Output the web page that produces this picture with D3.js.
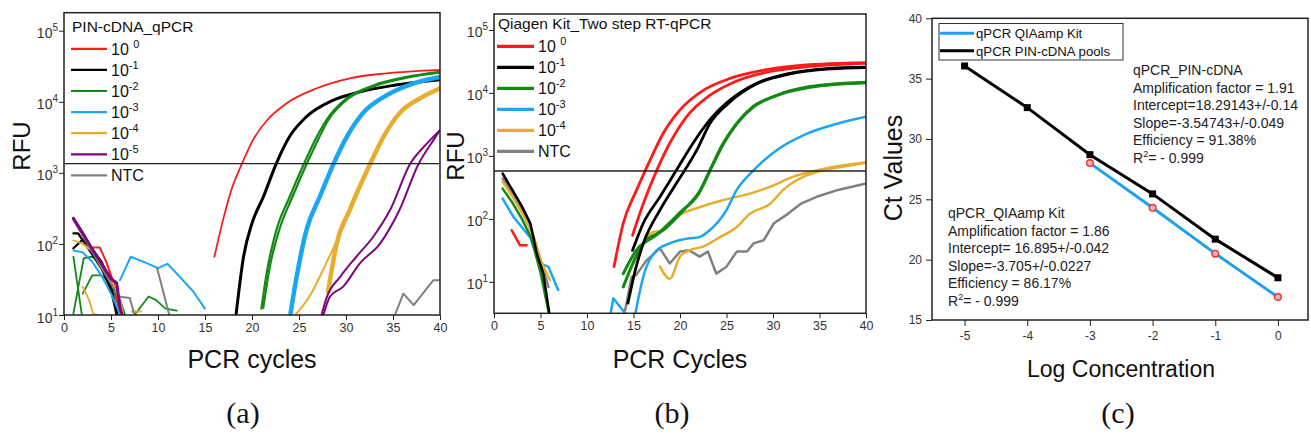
<!DOCTYPE html>
<html><head><meta charset="utf-8">
<script src="https://cdn.jsdelivr.net/npm/d3@7"></script>
<style>
body{margin:0;background:#fff;}
svg text{font-family:Arial,"Liberation Sans",Helvetica,sans-serif;}
</style>
</head><body>
<svg id="chart" width="1311" height="437"></svg>
<script>
// ---------------- DATA ----------------
const cycleTicks = [0,5,10,15,20,25,30,35,40];
const rfuTicks = [10,100,1000,10000,100000];
const legendA = ["10 |0","10|-1","10|-2","10|-3","10|-4","10|-5","NTC"];
const legendB = ["10 |0","10|-1","10|-2","10|-3","10|-4","NTC"];
const aThreshold = 1350;
const bThreshold = 575;

// Panel (a): PIN-cDNA_qPCR  [cycle, RFU]
const aRed1 = [[16.0,66],[17.0,240],[17.8,575],[18.9,1318],[20.1,2884],[21.6,5495],[23.7,9550],[26.9,15490],[30.4,21380],[34.3,25120],[40,28180]];
const aRedN = [[3.0,89],[3.8,89],[4.5,56],[5.3,28],[6.0,10]];
const aBlack1 = [[18.3,10],[19.1,66],[20.0,195],[21.2,457],[22.55,1318],[24.0,3236],[25.8,6166],[28.6,10470],[31.5,13800],[35.0,16980],[40,20420]];
const aBlackN1 = [[1,141],[1.5,141],[2,112],[3,71],[4,45],[5,22.4],[5.6,10]];
const aBlackN2 = [[1,87],[2,115],[3,85],[4,56],[5,25],[5.7,10]];
const aGreen1 = [[21.0,12.3],[21.56,38.9],[22.6,158],[24.0,457],[25.5,1318],[26.7,2884],[27.9,5495],[30.1,11220],[32.9,16980],[36.5,22390],[40,26300]];
const aGreen2 = [[21.2,12.6],[21.9,47.9],[22.9,158],[24.3,457],[25.8,1318],[27.0,2884],[28.1,5495],[30.3,11220],[33.0,16600],[36.5,21880],[40,25700]];
const aGreenN1 = [[1,66],[1.9,10]];
const aGreenN2 = [[1,10.5],[2.1,63],[3,66],[4,56],[5,32],[6,15.8],[6.5,10]];
const aGreenN3 = [[2.0,20],[3.0,36],[4.0,36],[5.0,28],[5.5,18],[6,10]];
const aGreenN4 = [[7.5,10],[9.0,18.2],[9.8,16.2],[10.8,12.3],[12.0,11.5]];
const aBlue1 = [[24.1,10.5],[24.75,34.7],[25.8,158],[27.2,457],[28.65,1318],[30.1,3236],[31.8,6918],[34.3,12300],[37.2,18200],[40,22390]];
const aBlueN1 = [[1,81],[2,76],[3,56],[4,35.5],[5,20],[6,10]];
const aBlueN2 = [[5.96,30.9],[7.1,66],[8.8,53.7],[10.0,45.7],[11.0,52.5],[12.3,34.7],[13.75,21.4],[15.0,12.3]];
const aYellow1 = [[24.6,10],[26.2,19],[27.9,53.7],[29.7,174],[31.1,457],[32.55,1318]];
const aYellow2 = [[28.1,21.4],[29.0,100],[30.4,302],[32.55,1318],[34.0,3236],[35.7,6918],[37.9,11220],[40,15490]];
const aYellowN1 = [[1,112],[2,100],[3,79.4],[4,52.5],[5,31.6],[6,15.8],[6.3,10]];
const aYellowN2 = [[2.0,25.1],[2.7,15.8],[3.1,10.5],[3.6,10]];
const aYellowN3 = [[7.2,11.2],[8.2,11.2]];
const aPurple1 = [[27.4,10],[27.9,17],[29.4,34.7],[31.1,66],[32.9,126],[34.7,302],[36.8,1318],[38.6,2570],[40,3981]];
const aPurple2 = [[27.6,10],[28.3,18.2],[29.7,25.1],[31.5,53.7],[33.6,100],[35.7,302],[37.7,1318],[39.3,2884],[40,3981]];
const aPurpleN = [[1,229],[2,141],[3,85],[4,52.5],[5,32.4],[5.6,28.2],[6.0,12],[6.2,10]];
const aGrayN1 = [[1,219],[2,129],[3,77.6],[4,45.7],[5,27.5],[5.8,18.2],[7.0,17.4],[7.5,10]];
const aGrayN2 = [[9.9,45.7],[11.2,10]];
const aGrayN3 = [[35.2,10],[36.1,20],[37.2,13.8],[39.3,30.9],[40,30.9]];

// Panel (b): Qiagen Kit_Two step RT-qPCR  [cycle, RFU]
const bRed1 = [[12.9,17.4],[13.9,85.1],[15.34,288],[16.77,851],[18.2,2291],[20.0,5370],[22.5,10965],[25.38,16980],[29.0,22910],[33.3,27540],[40,30200]];
const bRed2 = [[14.9,55],[16.05,174],[17.5,589],[18.9,1585],[20.7,4169],[23.2,9120],[26.1,15490],[29.7,21880],[34.0,26300],[40,29510]];
const bRedN = [[1.9,66],[2.8,38],[3.5,38]];
const bBlack1 = [[14.9,31.6],[16.05,85.1],[17.85,224],[19.6,589],[21.4,1585],[23.2,3715],[25.4,7762],[28.2,14125],[31.8,20420],[36.1,24550],[40,25700]];
const bBlack2 = [[14.4,4.57],[15.2,15.5],[16.05,40.7],[17.85,138],[19.6,363],[21.8,1230],[23.2,3236],[25.4,7244],[28.2,13800],[31.8,20000],[36.1,24000],[40,25200]];
const bBlackN = [[0.93,525],[2,282],[3,158],[3.9,85.1],[4.6,28.2],[5.3,13.5],[5.95,3.16]];
const bGreen1 = [[13.9,8.3],[16.05,40.7],[18.2,66],[20.4,138],[22.2,288],[23.6,759],[24.7,1585],[26.1,3236],[27.9,6026],[30.4,9120],[34.0,12590],[40,14790]];
const bGreen2 = [[13.9,13.5],[15.3,31.6],[17.5,56.2],[20.0,126],[22.0,251],[23.4,676],[24.5,1450],[25.9,3000],[27.7,5800],[30.2,8900],[34.0,12300],[40,14500]];
const bGreenN = [[0.93,302],[2,178],[3,100],[4,50],[5,14.1],[5.9,3.16]];
const bBlue1 = [[15.2,3.16],[16.05,12],[17.5,31.6],[18.9,40.7],[21.0,49],[22.1,51.3],[23.2,66],[25.0,138],[26.1,288],[27.9,589],[30.4,1230],[33.3,2138],[36.9,3236],[40,4169]];
const bBlueE = [[12.55,3.16],[12.83,5.5],[14.1,3.16]];
const bBlueN = [[0.93,209],[2.1,107],[3.87,51.3],[4.95,19.5],[5.85,17.4],[6.9,7.4]];
const bYellow1 = [[13.9,8.3],[15.3,25.1],[17.1,61.7],[18.2,66],[19.6,107],[21.8,148],[24.7,200],[27.5,251],[29.7,324],[32.2,468],[34.7,589],[37.6,708],[40,794]];
const bYellow2 = [[17.85,17.4],[18.9,11.2],[20.0,25.1],[21.0,31.6],[22.5,36.3],[24.3,51.3],[26.1,74.1],[27.5,120],[29.7,174],[31.1,288],[33.3,468],[35.4,589],[37.6,676],[40,776]];
const bYellowN = [[0.93,389],[2,224],[3,126],[4,63],[5,22.4],[6,10.7]];
const bGray1 = [[14.1,3.55],[14.8,12],[15.3,12.9],[16.4,21.9],[17.85,33.9],[18.9,19.5],[20.0,30.2],[21.0,31.6],[22.1,25.1],[23.0,30.2],[23.9,13.5],[25.0,17.4],[26.1,30.2],[27.2,30.2],[27.9,40.7],[29.0,45.7],[30.1,85.1],[31.6,120],[33.0,174],[34.7,224],[37.0,288],[40,363]];
const bGrayN = [[0.93,437],[2,251],[3,141],[4,70.8],[5,22.4],[5.85,8.3]];

// Panel (c): standard curves
const cLogTicks = [-5,-4,-3,-2,-1,0];
const cCtTicks = [15,20,25,30,35,40];
const cLogPIN = [-5,-4,-3,-2,-1,0];
const cCtPIN = [36.05,32.6,28.7,25.45,21.7,18.5];
const cLogQIA = [-3,-2,-1,0];
const cCtQIA = [28.0,24.3,20.5,16.9];
const cLegend = ["qPCR QIAamp Kit","qPCR PIN-cDNA pools"];
const cNotePIN = ["qPCR_PIN-cDNA","Amplification factor = 1.91","Intercept=18.29143+/-0.14","Slope=-3.54743+/-0.049","Efficiency = 91.38%","R|2|= - 0.999"];
const cNoteQIA = ["qPCR_QIAamp Kit","Amplification factor = 1.86","Intercept= 16.895+/-0.042","Slope=-3.705+/-0.0227","Efficiency = 86.17%","R|2|= - 0.999"];

// ---------------- STYLE ----------------
const COL = {red:"#ff1a1a",black:"#000000",green:"#138a13",blue:"#1aa6f2",yellow:"#e6ad2e",purple:"#7e067e",gray:"#808080"};
const svg = d3.select("#chart");

function supText(sel, str, size, supSize, dy){
  const parts = str.split("|");
  sel.text(null);
  sel.append("tspan").text(parts[0]);
  if (parts.length>1){
    sel.append("tspan").attr("font-size",supSize).attr("dy",dy).text(parts[1]);
    if (parts.length>2) sel.append("tspan").attr("font-size",size).attr("dy",-dy).text(parts[2]);
  }
}

function rfuPanel(cfg){
  const g = svg.append("g");
  const x = d3.scaleLinear().domain([0,40]).range([cfg.left,cfg.right]);
  const y = d3.scaleLog().domain(cfg.ydom).range([cfg.bottom,cfg.top]);
  const id = "clip"+cfg.name;
  svg.append("clipPath").attr("id",id).append("rect")
    .attr("x",cfg.left).attr("y",cfg.top).attr("width",cfg.right-cfg.left).attr("height",cfg.bottom-cfg.top);
  const plot = g.append("g").attr("clip-path","url(#"+id+")");
  const lineS = d3.line().x(d=>x(d[0])).y(d=>y(d[1])).curve(d3.curveMonotoneX);
  const lineL = d3.line().x(d=>x(d[0])).y(d=>y(d[1]));
  cfg.series.forEach(s=>{
    plot.append("path").attr("d",(s.smooth?lineS:lineL)(s.data))
      .attr("fill","none").attr("stroke",COL[s.color]).attr("stroke-width",s.w)
      .attr("stroke-linejoin","round").attr("stroke-linecap","round");
  });
  // threshold
  g.append("line").attr("x1",cfg.left).attr("x2",cfg.right)
    .attr("y1",y(cfg.threshold)).attr("y2",y(cfg.threshold))
    .attr("stroke","#222").attr("stroke-width",1.3);
  // axes
  const xa = g.append("g").attr("transform",`translate(0,${cfg.bottom})`)
    .call(d3.axisBottom(x).tickValues(cycleTicks).tickSize(5).tickPadding(3));
  xa.selectAll("text").attr("font-size",12.5).attr("fill","#333");
  const ya = g.append("g").attr("transform",`translate(${cfg.left},0)`)
    .call(d3.axisLeft(y).tickValues(rfuTicks).tickSize(5).tickPadding(1).tickFormat(d=>d));
  ya.selectAll("text").attr("font-size",14).attr("fill","#333").attr("dy","0.5em")
    .each(function(d){ const e=Math.round(Math.log10(d)); supText(d3.select(this),"10|"+e,14,10,-7); });
  [xa,ya].forEach(a=>{a.select(".domain").remove(); a.selectAll("line").attr("stroke","#222");});
  // frame
  g.append("rect").attr("x",cfg.left).attr("y",cfg.top).attr("width",cfg.right-cfg.left)
    .attr("height",cfg.bottom-cfg.top).attr("fill","none").attr("stroke","#222").attr("stroke-width",1.5);
  // legend
  g.append("text").attr("x",cfg.legX+1).attr("y",cfg.legY).attr("font-size",15.5).attr("fill","#111").text(cfg.title);
  cfg.legend.forEach((lab,i)=>{
    const ly = cfg.legY + cfg.legGap*(i+1) - 4;
    g.append("line").attr("x1",cfg.legX).attr("x2",cfg.legX+cfg.legLen).attr("y1",ly).attr("y2",ly)
      .attr("stroke",COL[cfg.legCols[i]]).attr("stroke-width",cfg.legW);
    const t = g.append("text").attr("x",cfg.legX+cfg.legLen+4).attr("y",ly+6).attr("font-size",16).attr("fill","#111");
    supText(t,lab,16,11,-7);
  });
  // axis titles
  g.append("text").attr("transform",`translate(${cfg.ytX},${cfg.ytY}) rotate(-90)`)
    .attr("text-anchor","middle").attr("font-size",24).attr("fill","#111").text("RFU");
  g.append("text").attr("x",(cfg.left+cfg.right)/2).attr("y",368).attr("text-anchor","middle")
    .attr("font-size",25).attr("fill","#111").text(cfg.xtitle);
  g.append("text").attr("x",cfg.tagX).attr("y",423).attr("text-anchor","middle")
    .attr("font-size",30).attr("fill","#111").style("font-family","'Liberation Serif','DejaVu Serif',serif").text(cfg.tag);
}

rfuPanel({
  name:"A", left:64, right:440, top:12.7, bottom:315, ydom:[10, Math.pow(10,5.253)],
  threshold:aThreshold, title:"PIN-cDNA_qPCR", legend:legendA,
  legCols:["red","black","green","blue","yellow","purple","gray"],
  legX:71, legY:31.7, legGap:21.1, legLen:36, legW:2.2,
  ytX:30, ytY:146, xtitle:"PCR cycles", tag:"(a)", tagX:243,
  series:[
    {data:aGrayN3,color:"gray",w:2},
    {data:aGreenN1,color:"green",w:1.8},{data:aGreenN2,color:"green",w:1.8},{data:aGreenN3,color:"green",w:1.8},{data:aGreenN4,color:"green",w:1.8},
    {data:aYellowN2,color:"yellow",w:1.8},{data:aYellowN3,color:"yellow",w:1.8},
    {data:aBlueN2,color:"blue",w:2},
    {data:aGrayN2,color:"gray",w:2},
    {data:aRedN,color:"red",w:2},
    {data:aBlackN1,color:"black",w:2.2},{data:aBlackN2,color:"black",w:2.2},
    {data:aBlueN1,color:"blue",w:2},{data:aYellowN1,color:"yellow",w:2},
    {data:aGrayN1,color:"gray",w:2},{data:aPurpleN,color:"purple",w:3},
    {data:aRed1,color:"red",w:1.8,smooth:true},
    {data:aBlack1,color:"black",w:3,smooth:true},
    {data:aGreen1,color:"green",w:2.2,smooth:true},{data:aGreen2,color:"green",w:2.2,smooth:true},
    {data:aBlue1,color:"blue",w:4.5,smooth:true},
    {data:aYellow1,color:"yellow",w:2,smooth:true},{data:aYellow2,color:"yellow",w:4.5,smooth:true},
    {data:aPurple1,color:"purple",w:2,smooth:true},{data:aPurple2,color:"purple",w:2,smooth:true}
  ]
});

rfuPanel({
  name:"B", left:494, right:866, top:14, bottom:313.3, ydom:[Math.pow(10,0.5), Math.pow(10,5.253)],
  threshold:bThreshold, title:"Qiagen Kit_Two step RT-qPCR", legend:legendB,
  legCols:["red","black","green","blue","yellow","gray"],
  legX:497, legY:29.3, legGap:21, legLen:37, legW:3.2,
  ytX:464, ytY:156, xtitle:"PCR Cycles", tag:"(b)", tagX:672,
  series:[
    {data:bGrayN,color:"gray",w:2.5},{data:bBlueN,color:"blue",w:2.5},{data:bGreenN,color:"green",w:2.5},
    {data:bYellowN,color:"yellow",w:2.5},{data:bBlackN,color:"black",w:2.5},{data:bRedN,color:"red",w:2.5},
    {data:bBlueE,color:"blue",w:2.5},
    {data:bGray1,color:"gray",w:2.5},
    {data:bYellow2,color:"yellow",w:2.5,smooth:true},{data:bYellow1,color:"yellow",w:2.5,smooth:true},
    {data:bBlue1,color:"blue",w:2.5,smooth:true},
    {data:bGreen1,color:"green",w:3,smooth:true},{data:bGreen2,color:"green",w:3,smooth:true},
    {data:bBlack2,color:"black",w:2.8,smooth:true},{data:bBlack1,color:"black",w:2.8,smooth:true},
    {data:bRed2,color:"red",w:2.8,smooth:true},{data:bRed1,color:"red",w:2.8,smooth:true}
  ]
});

// ---------------- PANEL C ----------------
(function(){
  const L=932,R=1308,T=18.3,B=320;
  const g = svg.append("g");
  const x = d3.scaleLinear().domain([-5.52,0.48]).range([L,R]);
  const y = d3.scaleLinear().domain([15,40]).range([B,T]);
  const line = d3.line().x(d=>x(d[0])).y(d=>y(d[1]));
  const pin = cLogPIN.map((v,i)=>[v,cCtPIN[i]]);
  const qia = cLogQIA.map((v,i)=>[v,cCtQIA[i]]);
  g.append("path").attr("d",line(qia)).attr("fill","none").attr("stroke","#1f9ff0").attr("stroke-width",3);
  g.append("path").attr("d",line(pin)).attr("fill","none").attr("stroke","#000").attr("stroke-width",3);
  g.selectAll(".sq").data(pin).enter().append("rect")
    .attr("x",d=>x(d[0])-3.5).attr("y",d=>y(d[1])-3.5).attr("width",7).attr("height",7).attr("fill","#000");
  g.selectAll(".ci").data(qia).enter().append("circle")
    .attr("cx",d=>x(d[0])).attr("cy",d=>y(d[1])).attr("r",3.3)
    .attr("fill","#f7b0b0").attr("stroke","#ee3030").attr("stroke-width",1.4);
  const xa = g.append("g").attr("transform",`translate(0,${B})`)
    .call(d3.axisBottom(x).tickValues(cLogTicks).tickSize(6).tickPadding(5).tickFormat(d=>String(d)));
  xa.selectAll("text").attr("font-size",12).attr("fill","#333");
  const ya = g.append("g").attr("transform",`translate(${L},0)`)
    .call(d3.axisLeft(y).tickValues(cCtTicks).tickSize(6).tickPadding(4).tickFormat(d=>String(d)));
  ya.selectAll("text").attr("font-size",12).attr("fill","#333");
  [xa,ya].forEach(a=>{a.select(".domain").remove(); a.selectAll("line").attr("stroke","#222");});
  g.append("rect").attr("x",L).attr("y",T).attr("width",R-L).attr("height",B-T)
    .attr("fill","none").attr("stroke","#222").attr("stroke-width",1.5);
  // legend box
  g.append("rect").attr("x",939).attr("y",23.5).attr("width",184).attr("height",36.5)
    .attr("fill","#fff").attr("stroke","#333").attr("stroke-width",1);
  const lc=["#1f9ff0","#000"];
  cLegend.forEach((t,i)=>{
    const ly = 33.3 + i*17.4;
    g.append("line").attr("x1",940).attr("x2",974).attr("y1",ly).attr("y2",ly).attr("stroke",lc[i]).attr("stroke-width",3);
    g.append("text").attr("x",976).attr("y",ly+5).attr("font-size",13.2).attr("fill","#111").text(t);
  });
  function note(lines,x0,y0){
    lines.forEach((s,i)=>{
      const t = g.append("text").attr("x",x0).attr("y",y0+i*17.5).attr("font-size",14).attr("fill","#222");
      supText(t,s,14,9,-6);
    });
  }
  note(cNotePIN,1133,75);
  note(cNoteQIA,948,218);
  g.append("text").attr("transform",`translate(902,168) rotate(-90)`)
    .attr("text-anchor","middle").attr("font-size",25).attr("fill","#111").text("Ct Values");
  g.append("text").attr("x",1121).attr("y",377).attr("text-anchor","middle")
    .attr("font-size",23).attr("fill","#111").text("Log Concentration");
  g.append("text").attr("x",1118).attr("y",423).attr("text-anchor","middle")
    .attr("font-size",30).attr("fill","#111").style("font-family","'Liberation Serif','DejaVu Serif',serif").text("(c)");
})();
</script>
</body></html>
